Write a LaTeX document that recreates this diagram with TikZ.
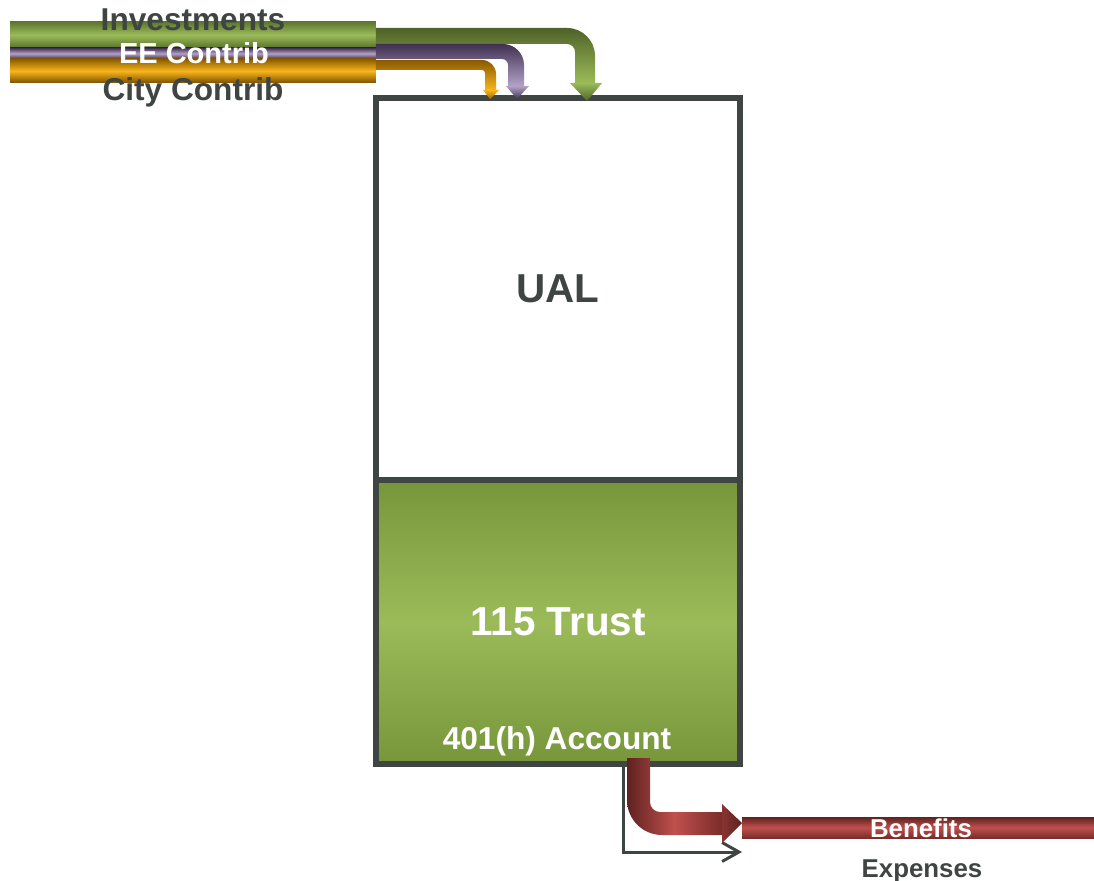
\documentclass[tikz,border=0pt]{standalone}
\usepackage{fontspec}
\setmainfont{Liberation Sans}
\usetikzlibrary{arrows.meta}
\definecolor{slate}{HTML}{3F4543}
\definecolor{olivedark}{HTML}{4F6228}
\definecolor{olivemid}{HTML}{77963A}
\definecolor{olivelight}{HTML}{9BBB59}
\definecolor{plumdark}{HTML}{403152}
\definecolor{plumlight}{HTML}{B3A2C7}
\definecolor{ambdark}{HTML}{8A5A00}
\definecolor{amblight}{HTML}{F9B51C}
\definecolor{rustdark}{HTML}{5E2220}
\definecolor{rustmid}{HTML}{7A2C2A}
\definecolor{rustlight}{HTML}{C0504D}

\begin{document}
\begin{tikzpicture}[x=0.02cm,y=-0.02cm,
  tank/.style={draw=slate, line width=3.4pt, inner sep=0pt, outer sep=0pt, font=\bfseries\fontsize{23pt}{23pt}\selectfont},
  bar/.style={inner sep=0pt, outer sep=0pt},
  lbl/.style={anchor=base, inner sep=0pt, font=\bfseries\fontsize{18pt}{18pt}\selectfont},
  small/.style={anchor=base, inner sep=0pt, font=\bfseries\fontsize{14.7pt}{14.7pt}\selectfont}]
\useasboundingbox (0,0) rectangle (1094,881);
\node[tank, minimum width=7.28cm, minimum height=7.64cm, text=slate] (ual) at (558,289) {UAL};
\node[tank, minimum width=7.28cm, minimum height=5.68cm, top color=olivemid, bottom color=olivemid, middle color=olivelight, text=white] (trust) at (558,622) {115 Trust};
\node[lbl, text=white] (acct) at (557,749) {401(h) Account};
\node[bar, minimum width=7.32cm, minimum height=0.52cm, top color=olivemid!80!black, bottom color=olivemid!75!black, middle color=olivelight] (invbar) at (193,35) {};
\node[bar, minimum width=7.32cm, minimum height=0.22cm, top color=plumdark, bottom color=plumdark, middle color=plumlight] (eebar) at (193,53.5) {};
\node[bar, minimum width=7.32cm, minimum height=0.48cm, top color=ambdark, bottom color=ambdark!90!black, middle color=amblight] (citybar) at (193,71) {};
\node[lbl, text=slate] (inv) at (193,31) {Investments};
\node[lbl, text=white, font=\bfseries\fontsize{16.5pt}{16.5pt}\selectfont] (ee) at (194,64) {EE Contrib};
\node[lbl, text=slate] (city) at (193,101) {City Contrib};
\shade[top color=olivedark, bottom color=olivelight] (invbar.east |- 0,28) -- (567,28) .. controls (582.5,28) and (595,40.5) .. (595,56) -- (595,83) -- (575,83) -- (575,52) .. controls (575,47.6) and (571.4,44) .. (567,44) -- (invbar.east |- 0,44) -- cycle;
\shade[top color=olivelight, bottom color=olivedark] (570,83) -- (602,83) -- (587,101) -- cycle;
\shade[top color=plumdark, bottom color=plumlight] (eebar.east |- 0,44) -- (503,44) .. controls (514.6,44) and (524,53.4) .. (524,65) -- (524,86) -- (508,86) -- (508,65) .. controls (508,61.7) and (505.3,59) .. (502,59) -- (eebar.east |- 0,59) -- cycle;
\shade[top color=plumlight, bottom color=plumdark] (506,86) -- (529,86) -- (517,99) -- cycle;
\shade[top color=ambdark, bottom color=amblight] (citybar.east |- 0,60) -- (482,60) .. controls (489.7,60) and (496,66.3) .. (496,74) -- (496,90) -- (485,90) -- (485,73) .. controls (485,71.3) and (483.7,70) .. (482,70) -- (citybar.east |- 0,70) -- cycle;
\shade[top color=amblight, bottom color=ambdark!80!orange] (483,90) -- (499,90) -- (490,99) -- cycle;
\coordinate (expStart) at (623,766);
\coordinate (expEnd) at (742,852);
\draw[slate, line width=1.7pt, -{Straight Barb[length=9.6pt,width=10.8pt]}] (expStart) |- (expEnd);
\shade[left color=rustdark, right color=rustmid, middle color=rustlight] (627,758) -- (650,758) -- (650,802) .. controls (650,807.5) and (654.5,812) .. (660,812) -- (722,812) -- (722,835) -- (662,835) .. controls (642.7,835) and (627,819.3) .. (627,800) -- cycle;
\shade[left color=rustmid!80!rustlight, right color=rustdark] (722,804) -- (742,823) -- (722,843) -- cycle;
\node[bar, minimum width=7.04cm, minimum height=0.42cm, top color=rustdark, bottom color=rustmid, middle color=rustlight] (benbar) at (918,827.5) {};
\node[small, text=white] (ben) at (921,837) {Benefits};
\node[small, text=slate] (exp) at (922,877) {Expenses};
\end{tikzpicture}
\end{document}
